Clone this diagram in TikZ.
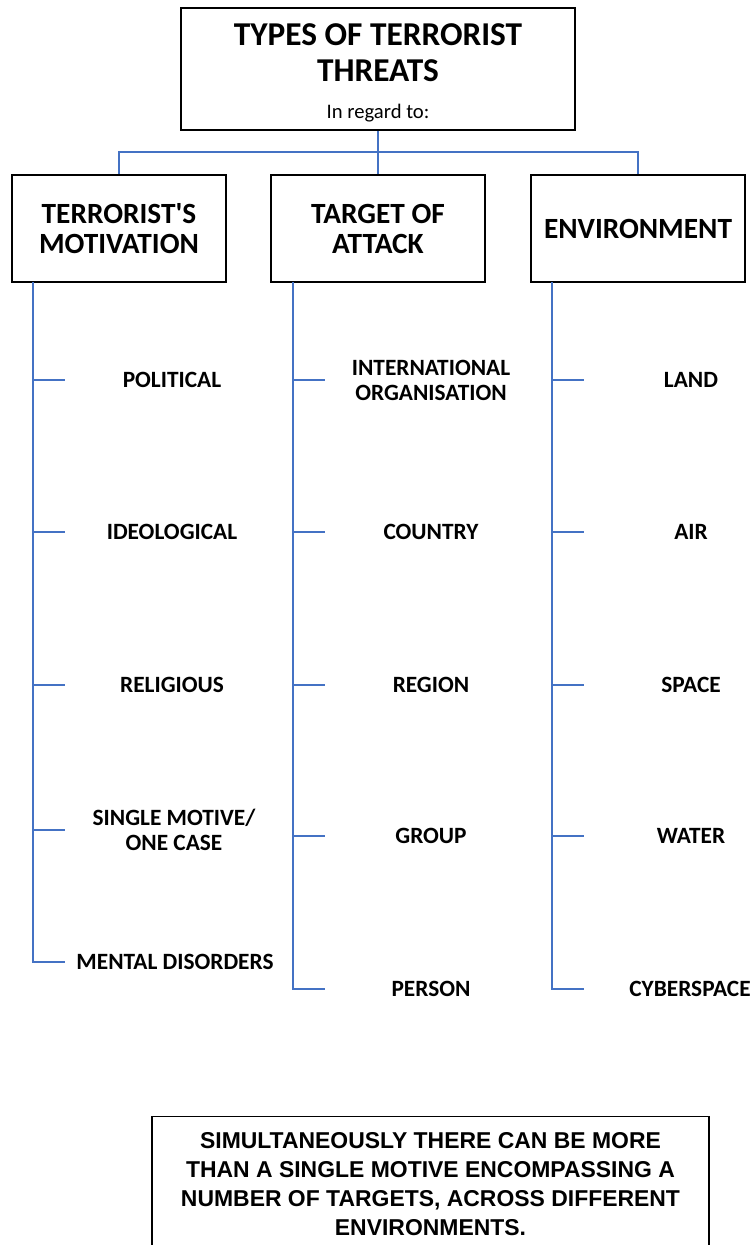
\documentclass[tikz,border=0pt]{standalone}
\usepackage{fontspec}
\setmainfont{Carlito}
\newfontfamily\notefont{Liberation Sans}

\definecolor{lineblue}{RGB}{68,114,196}

\tikzset{
    box/.style={draw=black, line width=1.5pt, align=center, inner sep=0pt},
    head/.style={box, minimum width=160.5pt, minimum height=80.25pt,
                 font=\bfseries\fontsize{22}{22.5}\selectfont},
    item/.style={align=center, font=\bfseries\fontsize{17.5}{18.75}\selectfont},
    branch/.style={draw=lineblue, line width=2pt},
}

\begin{document}
\begin{tikzpicture}[x=0.75pt, y=-0.75pt]

    \clip (0,0) rectangle (753,1245);

    \node[box, minimum width=295.5pt, minimum height=91.5pt,
          font=\bfseries\fontsize{25}{27}\selectfont] (title) at (378,69)
        {\rule{0pt}{22pt}TYPES OF TERRORIST\\THREATS\\[1pt]{\mdseries\fontsize{15.5}{15.5}\selectfont In regard to:}};

    \node[head] (motive) at (119,228.5) {TERRORIST\textquotesingle S\\MOTIVATION};
    \node[head] (target) at (378,228.5) {TARGET OF\\ATTACK};
    \node[head] (environ) at (638,228.5) {ENVIRONMENT};

    \coordinate (split) at (378,152);
    \draw[branch] (title.south) -- (target.north);
    \draw[branch] (motive.north) |- (split) -| (environ.north);

    % motivation
    \node[item] (pol) at (172,380) {POLITICAL};
    \node[item] (ideo) at (172,532) {IDEOLOGICAL};
    \node[item] (rel) at (172,685) {RELIGIOUS};
    \node[item] (single) at (174,830) {SINGLE MOTIVE/\\ONE CASE};
    \node[item] (mental) at (175,962) {MENTAL DISORDERS};

    \coordinate (m0) at (33,282);
    \coordinate (m1) at (65,380);
    \coordinate (m2) at (65,532);
    \coordinate (m3) at (65,685);
    \coordinate (m4) at (65,830);
    \coordinate (m5) at (65,962);

    \draw[branch] (m0) |- (m5);
    \draw[branch] (m0 |- m1) -- (m1);
    \draw[branch] (m0 |- m2) -- (m2);
    \draw[branch] (m0 |- m3) -- (m3);
    \draw[branch] (m0 |- m4) -- (m4);

    % target
    \node[item] (intl) at (431,380) {INTERNATIONAL\\ORGANISATION};
    \node[item] (country) at (431,532) {COUNTRY};
    \node[item] (region) at (431,685) {REGION};
    \node[item] (group) at (431,836) {GROUP};
    \node[item] (person) at (431,989) {PERSON};

    \coordinate (t0) at (293,282);
    \coordinate (t1) at (325,380);
    \coordinate (t2) at (325,532);
    \coordinate (t3) at (325,685);
    \coordinate (t4) at (325,836);
    \coordinate (t5) at (325,989);

    \draw[branch] (t0) |- (t5);
    \draw[branch] (t0 |- t1) -- (t1);
    \draw[branch] (t0 |- t2) -- (t2);
    \draw[branch] (t0 |- t3) -- (t3);
    \draw[branch] (t0 |- t4) -- (t4);

    % environment
    \node[item] (land) at (691,380) {LAND};
    \node[item] (air) at (691,532) {AIR};
    \node[item] (space) at (691,685) {SPACE};
    \node[item] (water) at (691,836) {WATER};
    \node[item] (cyber) at (690,989) {CYBERSPACE};

    \coordinate (e0) at (552,282);
    \coordinate (e1) at (584,380);
    \coordinate (e2) at (584,532);
    \coordinate (e3) at (584,685);
    \coordinate (e4) at (584,836);
    \coordinate (e5) at (584,989);

    \draw[branch] (e0) |- (e5);
    \draw[branch] (e0 |- e1) -- (e1);
    \draw[branch] (e0 |- e2) -- (e2);
    \draw[branch] (e0 |- e3) -- (e3);
    \draw[branch] (e0 |- e4) -- (e4);

    \node[box, line width=1pt, anchor=north, minimum width=417.75pt, inner ysep=11.5pt,
          font=\notefont\bfseries\fontsize{17.2}{21.75}\selectfont] (note) at (430.5,1116)
        {SIMULTANEOUSLY THERE CAN BE MORE\\THAN A SINGLE MOTIVE ENCOMPASSING A\\
         NUMBER OF TARGETS, ACROSS DIFFERENT\\ENVIRONMENTS.};

\end{tikzpicture}
\end{document}
